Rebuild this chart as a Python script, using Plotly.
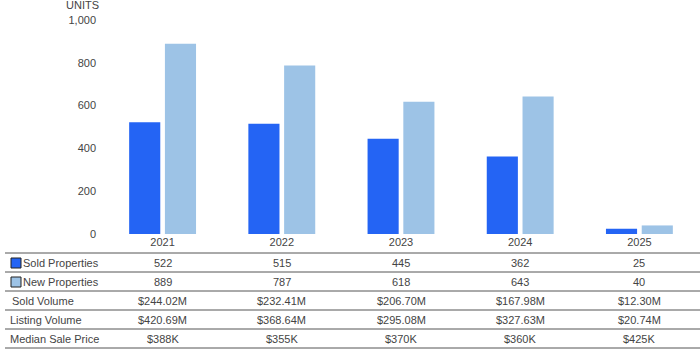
import plotly.graph_objects as go

years = ["2021", "2022", "2023", "2024", "2025"]
sold_properties = [522, 515, 445, 362, 25]
new_properties = [889, 787, 618, 643, 40]
sold_volume = ["$244.02M", "$232.41M", "$206.70M", "$167.98M", "$12.30M"]
listing_volume = ["$420.69M", "$368.64M", "$295.08M", "$327.63M", "$20.74M"]
median_sale_price = ["$388K", "$355K", "$370K", "$360K", "$425K"]
row_labels = ["Sold Properties", "New Properties", "Sold Volume", "Listing Volume", "Median Sale Price"]
y_ticks = [0, 200, 400, 600, 800, 1000]

SOLD_COLOR = "#2464f4"
NEW_COLOR = "#9dc3e6"
TEXT = "#444444"
FONT = "Liberation Sans, Arial, sans-serif"

W, H = 700, 350
L, R, T, B = 103, 1, 20, 116
plot_top, plot_bottom = T, H - B
plot_left, plot_right = L, W - R


def py(p):
    return (plot_bottom - p) / (plot_bottom - plot_top)


def px(p):
    return (p - plot_left) / (plot_right - plot_left)


fig = go.Figure()
fig.add_trace(go.Bar(x=years, y=sold_properties, name="Sold Properties",
                     marker=dict(color=SOLD_COLOR, line=dict(width=0))))
fig.add_trace(go.Bar(x=years, y=new_properties, name="New Properties",
                     marker=dict(color=NEW_COLOR, line=dict(width=0))))

rows = [
    [str(v) for v in sold_properties],
    [str(v) for v in new_properties],
    sold_volume,
    listing_volume,
    median_sale_price,
]
row_centers = [263, 282, 301, 320, 339]
label_x = [23, 23, 12, 10, 10]

annotations = []
for r, vals in enumerate(rows):
    for i, v in enumerate(vals):
        annotations.append(dict(x=i, xref="x", y=py(row_centers[r]), yref="paper",
                                text=v, showarrow=False, xanchor="center", yanchor="middle",
                                font=dict(size=11, color=TEXT, family=FONT)))
    annotations.append(dict(x=px(label_x[r]), xref="paper", y=py(row_centers[r]), yref="paper",
                            text=row_labels[r], showarrow=False, xanchor="left", yanchor="middle",
                            xshift=-2, font=dict(size=11, color=TEXT, family=FONT)))

annotations.append(dict(x=px(101), xref="paper", y=py(5), yref="paper", text="UNITS",
                        showarrow=False, xanchor="right", yanchor="middle",
                        font=dict(size=11, color=TEXT, family=FONT)))

shapes = []
for ly in [253, 272, 291, 310, 329, 348]:
    shapes.append(dict(type="line", xref="paper", yref="paper",
                       x0=px(5), x1=px(700), y0=py(ly), y1=py(ly),
                       line=dict(color="#555555", width=1)))
for ry, col in [(263, SOLD_COLOR), (282, NEW_COLOR)]:
    shapes.append(dict(type="rect", xref="paper", yref="paper",
                       x0=px(11), x1=px(21), y0=py(ry + 5), y1=py(ry - 5),
                       fillcolor=col, line=dict(color="#222222", width=1)))

fig.update_layout(
    width=W, height=H,
    margin=dict(l=L, r=R, t=T, b=B, pad=0),
    paper_bgcolor="white", plot_bgcolor="white",
    barmode="group", bargap=0.4, bargroupgap=0.13,
    showlegend=False,
    font=dict(family=FONT, size=11, color=TEXT),
    xaxis=dict(type="category", range=[-0.5, 4.5], showgrid=False, zeroline=False, showline=False,
               ticks="", tickfont=dict(size=11, color=TEXT)),
    yaxis=dict(range=[0, 1000], tickvals=y_ticks, tickformat=",", showgrid=False,
               zeroline=False, showline=False, ticks="", ticklabelstandoff=6,
               tickfont=dict(size=11, color=TEXT)),
    annotations=annotations,
    shapes=shapes,
)

fig.write_html("out.html")
